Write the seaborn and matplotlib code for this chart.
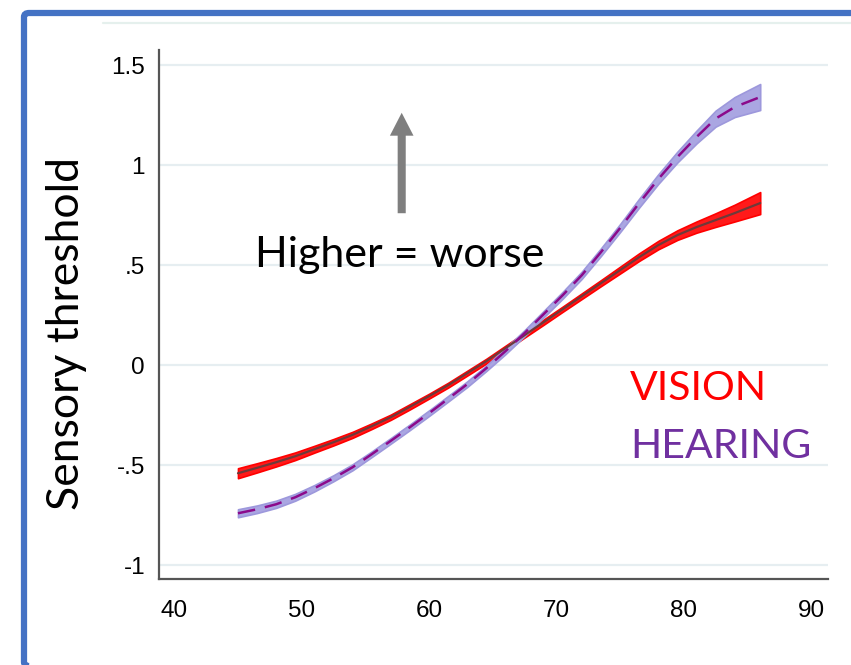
import numpy as np
import pandas as pd
import matplotlib
matplotlib.use("Agg")
import matplotlib.pyplot as plt
import seaborn as sns
from matplotlib.patches import FancyBboxPatch, FancyArrowPatch
from matplotlib.lines import Line2D

# ---- data ----
age = [45, 46.5, 48, 49.5, 51, 52.5, 54, 55.5, 57, 58.5, 60, 61.5, 63, 64.5,
       66, 67.5, 69, 70.5, 72, 73.5, 75, 76.5, 78, 79.5, 81, 82.5, 84, 86]
vision = [-0.54, -0.513, -0.485, -0.455, -0.42, -0.385, -0.348, -0.305, -0.26, -0.208,
          -0.155, -0.10, -0.04, 0.02, 0.085, 0.15, 0.215, 0.28, 0.345, 0.41,
          0.475, 0.54, 0.60, 0.65, 0.69, 0.725, 0.76, 0.81]
vision_ci = [0.025, 0.023, 0.021, 0.019, 0.017, 0.016, 0.015, 0.014, 0.013, 0.013,
             0.012, 0.012, 0.012, 0.012, 0.012, 0.012, 0.013, 0.013, 0.014, 0.015,
             0.017, 0.019, 0.021, 0.024, 0.028, 0.034, 0.042, 0.055]
hearing = [-0.74, -0.72, -0.695, -0.66, -0.615, -0.565, -0.51, -0.445, -0.378, -0.31,
           -0.24, -0.168, -0.095, -0.015, 0.07, 0.16, 0.255, 0.35, 0.45, 0.565,
           0.685, 0.81, 0.93, 1.04, 1.14, 1.232, 1.29, 1.34]
hearing_ci = [0.02, 0.019, 0.018, 0.017, 0.016, 0.015, 0.015, 0.014, 0.014, 0.014,
              0.014, 0.014, 0.014, 0.014, 0.015, 0.015, 0.016, 0.017, 0.018, 0.019,
              0.02, 0.022, 0.024, 0.027, 0.032, 0.04, 0.05, 0.065]
x_ticks = [40, 50, 60, 70, 80, 90]
y_ticks = [-1, -0.5, 0, 0.5, 1, 1.5]
y_ticklabels = ["-1", "-.5", "0", ".5", "1", "1.5"]

W, H = 851, 665
sns.set_theme(style="white")
plt.rcParams["font.family"] = ["Liberation Sans", "DejaVu Sans"]

fig = plt.figure(figsize=(W / 100, H / 100), dpi=100)
fig.patch.set_facecolor("white")

def fx(px):
    return px / W

def fy(py):
    return 1 - py / H

ax = fig.add_axes([fx(159), fy(579.3), fx(827.7) - fx(159), fy(50) - fy(579.3)])
ax.set_facecolor("white")

df = pd.DataFrame({
    "age": age * 2,
    "value": vision + hearing,
    "ci": vision_ci + hearing_ci,
    "sense": ["VISION"] * len(age) + ["HEARING"] * len(age),
})
df["lo"] = df["value"] - df["ci"]
df["hi"] = df["value"] + df["ci"]
dv = df[df.sense == "VISION"]
dh = df[df.sense == "HEARING"]

# confidence bands
ax.fill_between(dv["age"], dv["lo"], dv["hi"], color="#ff1a1a", edgecolor="#ff0000",
                linewidth=1.2, zorder=3)
ax.fill_between(dh["age"], dh["lo"], dh["hi"], color="#aaa6e2", edgecolor="#9d98dc",
                linewidth=1.2, zorder=3)

sns.lineplot(data=dv, x="age", y="value", ax=ax, color="#6e3a3a", linewidth=1.6,
             zorder=4, legend=False)
sns.lineplot(data=dh, x="age", y="value", ax=ax, color="#8b0a8b", linewidth=1.8,
             zorder=4, legend=False)
ax.lines[-1].set_dashes([7, 4])

ax.set_xlim(38.8, 91.3)
ax.set_ylim(-1.07, 1.575)
ax.set_xticks(x_ticks)
ax.set_yticks(y_ticks)
ax.set_yticklabels(y_ticklabels)
ax.set_xlabel("")
ax.set_ylabel("")

for s in ["top", "right"]:
    ax.spines[s].set_visible(False)
for s in ["left", "bottom"]:
    ax.spines[s].set_color("#555555")
    ax.spines[s].set_linewidth(1.6)

ax.tick_params(axis="both", which="major", direction="out", length=7,
               width=1.3, color="#555555", labelsize=17.5, labelcolor="black")
ax.tick_params(axis="x", pad=8)
ax.tick_params(axis="y", pad=3)
ax.yaxis.grid(True, color="#e6eef1", linewidth=1.6)
ax.xaxis.grid(False)
ax.set_axisbelow(True)

# light top rule
fig.add_artist(Line2D([fx(103), fx(851)], [fy(23), fy(23)], color="#e5f0ed",
                      linewidth=1.6, transform=fig.transFigure))

# blue slide frame
frame = FancyBboxPatch((fx(24), fy(666)), fx(900) - fx(24), fy(13) - fy(666),
                       boxstyle="round,pad=0,rounding_size=0.006",
                       transform=fig.transFigure, facecolor="none",
                       edgecolor="#4472c4", linewidth=4.5, clip_on=False)
fig.add_artist(frame)

# arrow
arr = FancyArrowPatch((fx(401.7), fy(216)), (fx(401.7), fy(110)),
                      transform=fig.transFigure,
                      arrowstyle="simple,head_width=17,head_length=16.5,tail_width=5.8",
                      mutation_scale=1, color="#7f7f7f", linewidth=0)
fig.add_artist(arr)

big = ["Lato", "DejaVu Sans"]
fig.text(fx(255), fy(266.7), "Higher = worse", fontsize=31, family=big,
         ha="left", va="baseline", color="black")
fig.text(fx(67), fy(334), "Sensory threshold", fontsize=32, family=big,
         rotation=90, ha="center", va="center", color="black")
fig.text(fx(630), fy(400), "VISION", fontsize=29.5, family=big,
         ha="left", va="baseline", color="#ff0000")
fig.text(fx(630), fy(458), "HEARING", fontsize=29.5, family=big,
         ha="left", va="baseline", color="#7030a0")

fig.savefig("out.png", dpi=100, facecolor="white")
